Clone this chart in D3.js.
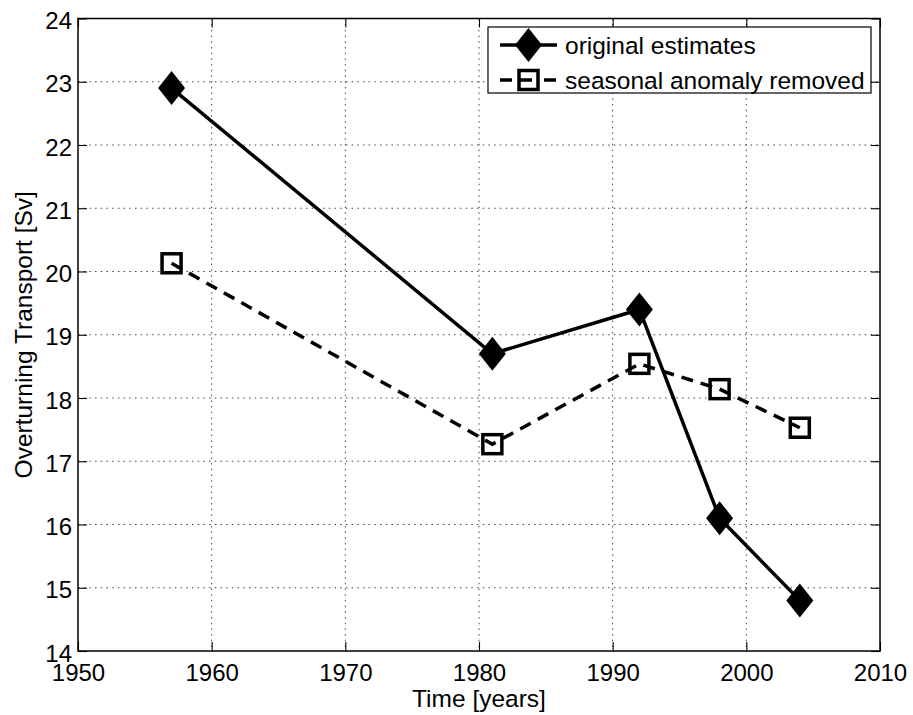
<!DOCTYPE html>
<html>
<head>
<meta charset="utf-8">
<script src="https://cdnjs.cloudflare.com/ajax/libs/d3/7.8.5/d3.min.js"></script>
<style>
  html, body { margin: 0; padding: 0; background: #fff; }
  svg text { font-family: "Liberation Sans", Arial, Helvetica, sans-serif; fill: #000; }
</style>
</head>
<body>
<svg id="chart" width="913" height="715"></svg>
<script>
// Survey years and overturning transport estimates (Sv)
const years = [1957, 1981, 1992, 1998, 2004];
const originalEstimates = [22.9, 18.7, 19.4, 16.1, 14.8];
const seasonalRemoved = [20.13, 17.27, 18.54, 18.14, 17.53];

const xTicks = [1950, 1960, 1970, 1980, 1990, 2000, 2010];
const yTicks = [14, 15, 16, 17, 18, 19, 20, 21, 22, 23, 24];

const seriesNames = ["original estimates", "seasonal anomaly removed"];

const svg = d3.select("#chart");
const plotLeft = 78, plotRight = 880, plotTop = 18.5, plotBottom = 651;

const x = d3.scaleLinear().domain([1950, 2010]).range([plotLeft, plotRight]);
const y = d3.scaleLinear().domain([14, 24]).range([plotBottom, plotTop]);

// Dotted grid
const grid = svg.append("g");
grid.selectAll("line.gx").data(xTicks.slice(1, -1)).enter().append("line")
  .attr("x1", d => x(d)).attr("x2", d => x(d))
  .attr("y1", plotTop).attr("y2", plotBottom)
  .attr("stroke", "#444").attr("stroke-width", 1).attr("stroke-dasharray", "1.5,4.2");
grid.selectAll("line.gy").data(yTicks.slice(1, -1)).enter().append("line")
  .attr("x1", plotLeft).attr("x2", plotRight)
  .attr("y1", d => y(d)).attr("y2", d => y(d))
  .attr("stroke", "#444").attr("stroke-width", 1).attr("stroke-dasharray", "1.5,4.2");

// Axes with inward ticks on all four sides
const tickLen = 9;
const tickFont = 24;
const labelFont = 24.5;
const xAxis = svg.append("g").attr("transform", `translate(0,${plotBottom})`)
  .call(d3.axisBottom(x).tickValues(xTicks).tickFormat(d3.format("d")).tickSizeInner(-tickLen).tickSizeOuter(0).tickPadding(13));
const yAxis = svg.append("g").attr("transform", `translate(${plotLeft},0)`)
  .call(d3.axisLeft(y).tickValues(yTicks).tickFormat(d3.format("d")).tickSizeInner(-tickLen).tickSizeOuter(0).tickPadding(6));
const xTop = svg.append("g").attr("transform", `translate(0,${plotTop})`)
  .call(d3.axisTop(x).tickValues(xTicks).tickFormat("").tickSizeInner(-tickLen).tickSizeOuter(0));
const yRight = svg.append("g").attr("transform", `translate(${plotRight},0)`)
  .call(d3.axisRight(y).tickValues(yTicks).tickFormat("").tickSizeInner(-tickLen).tickSizeOuter(0));

[xAxis, yAxis, xTop, yRight].forEach(g => {
  g.select(".domain").remove();
  g.selectAll(".tick line").attr("stroke", "#000").attr("stroke-width", 1.1);
  g.selectAll("text").style("font-size", tickFont + "px").attr("fill", "#000")
    .attr("font-family", null);
});
xAxis.selectAll("text").attr("dy", "0.71em");
yAxis.selectAll("text").attr("dy", "0.42em");

// Plot box
svg.append("rect").attr("x", plotLeft).attr("y", plotTop)
  .attr("width", plotRight - plotLeft).attr("height", plotBottom - plotTop)
  .attr("fill", "none").attr("stroke", "#000").attr("stroke-width", 1.5);

// Series lines
const line = d3.line().x(d => x(d[0])).y(d => y(d[1]));
const origPts = years.map((yr, i) => [yr, originalEstimates[i]]);
const seasPts = years.map((yr, i) => [yr, seasonalRemoved[i]]);

svg.append("path").datum(seasPts).attr("d", line)
  .attr("fill", "none").attr("stroke", "#000").attr("stroke-width", 3.5)
  .attr("stroke-dasharray", "12,8");
svg.append("path").datum(origPts).attr("d", line)
  .attr("fill", "none").attr("stroke", "#000").attr("stroke-width", 3.5);

// Markers
const diamond = (cx, cy) => `M${cx},${cy - 17}L${cx + 13.5},${cy}L${cx},${cy + 17}L${cx - 13.5},${cy}Z`;
svg.append("g").selectAll("path").data(origPts).enter().append("path")
  .attr("d", d => diamond(x(d[0]), y(d[1]))).attr("fill", "#000");

const sq = 19;
svg.append("g").selectAll("rect").data(seasPts).enter().append("rect")
  .attr("x", d => x(d[0]) - sq / 2).attr("y", d => y(d[1]) - sq / 2)
  .attr("width", sq).attr("height", sq)
  .attr("fill", "none").attr("stroke", "#000").attr("stroke-width", 3.5);

// Legend
const lg = svg.append("g");
lg.append("rect").attr("x", 488).attr("y", 27).attr("width", 383).attr("height", 66)
  .attr("fill", "#fff").attr("stroke", "#000").attr("stroke-width", 1.2);
const rowY = [45, 80];
// original estimates
lg.append("line").attr("x1", 500).attr("x2", 557).attr("y1", rowY[0]).attr("y2", rowY[0])
  .attr("stroke", "#000").attr("stroke-width", 3.5);
lg.append("path").attr("d", diamond(528.5, rowY[0])).attr("fill", "#000");
// seasonal anomaly removed
lg.append("line").attr("x1", 500).attr("x2", 557).attr("y1", rowY[1]).attr("y2", rowY[1])
  .attr("stroke", "#000").attr("stroke-width", 3.5).attr("stroke-dasharray", "12,8,12,12,12");
lg.append("rect").attr("x", 528.5 - sq / 2).attr("y", rowY[1] - sq / 2)
  .attr("width", sq).attr("height", sq)
  .attr("fill", "none").attr("stroke", "#000").attr("stroke-width", 3.5);
seriesNames.forEach((name, i) => {
  lg.append("text").attr("x", 565).attr("y", rowY[i]).attr("dy", "0.35em")
    .style("font-size", labelFont + "px").text(name);
});

// Axis titles
svg.append("text").attr("x", (plotLeft + plotRight) / 2).attr("y", 707)
  .attr("text-anchor", "middle").style("font-size", labelFont + "px").text("Time [years]");
svg.append("text").attr("transform", `translate(32,${(plotTop + plotBottom) / 2}) rotate(-90)`)
  .attr("text-anchor", "middle").style("font-size", labelFont + "px").text("Overturning Transport [Sv]");
</script>
</body>
</html>
